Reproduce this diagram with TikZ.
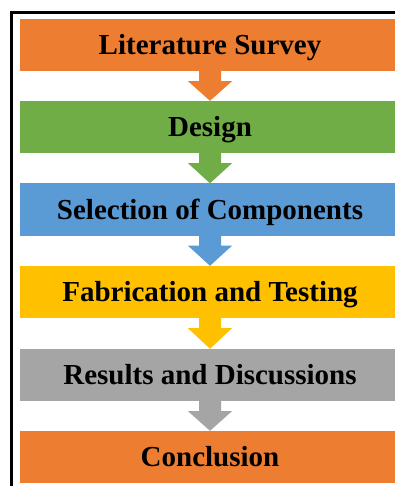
\documentclass[tikz,border=0pt]{standalone}
\usepackage{fontspec}
\setmainfont{Liberation Serif}
\usetikzlibrary{calc}
\definecolor{cOrange}{HTML}{ED7D31}
\definecolor{cGreen}{HTML}{70AD47}
\definecolor{cBlue}{HTML}{5B9BD5}
\definecolor{cGold}{HTML}{FFC000}
\definecolor{cGray}{HTML}{A5A5A5}
\tikzset{
  stagebox/.style={rectangle, draw=none, minimum width=380pt, minimum height=52pt,
    inner sep=0pt, text height=19pt, text depth=0pt,
    font=\fontsize{29}{34}\selectfont\bfseries},
  flowarrow/.style={draw=none}
}
\newcommand{\flowarr}[3]{%
  \fill[#3] ($(#1.south)+(-11pt,0)$) -- ($(#1.south)+(-11pt,-10pt)$) -- ($(#1.south)+(-22pt,-10pt)$)
    -- (#2.north) -- ($(#1.south)+(22pt,-10pt)$) -- ($(#1.south)+(11pt,-10pt)$) -- ($(#1.south)+(11pt,0)$) -- cycle;}
\begin{document}
\begin{tikzpicture}[x=1pt,y=-1pt]
\useasboundingbox (0,0) rectangle (395,486);
\clip (0,0) rectangle (395,486);
\fill[white] (0,0) rectangle (395,486);
\node[stagebox, fill=cOrange] (b1) at (210,45) {Literature Survey};
\node[stagebox, fill=cGreen] (b2) at (210,127) {Design};
\node[stagebox, fill=cBlue] (b3) at (210,209.5) {Selection of Components};
\node[stagebox, fill=cGold] (b4) at (210,292) {Fabrication and Testing};
\node[stagebox, fill=cGray] (b5) at (210,375) {Results and Discussions};
\node[stagebox, fill=cOrange] (b6) at (210,457) {Conclusion};
\flowarr{b1}{b2}{cOrange}
\flowarr{b2}{b3}{cGreen}
\flowarr{b3}{b4}{cBlue}
\flowarr{b4}{b5}{cGold}
\flowarr{b5}{b6}{cGray}
\draw[line width=3pt] (11.5,490) -- (11.5,12.5) -- (400,12.5);
\end{tikzpicture}
\end{document}
